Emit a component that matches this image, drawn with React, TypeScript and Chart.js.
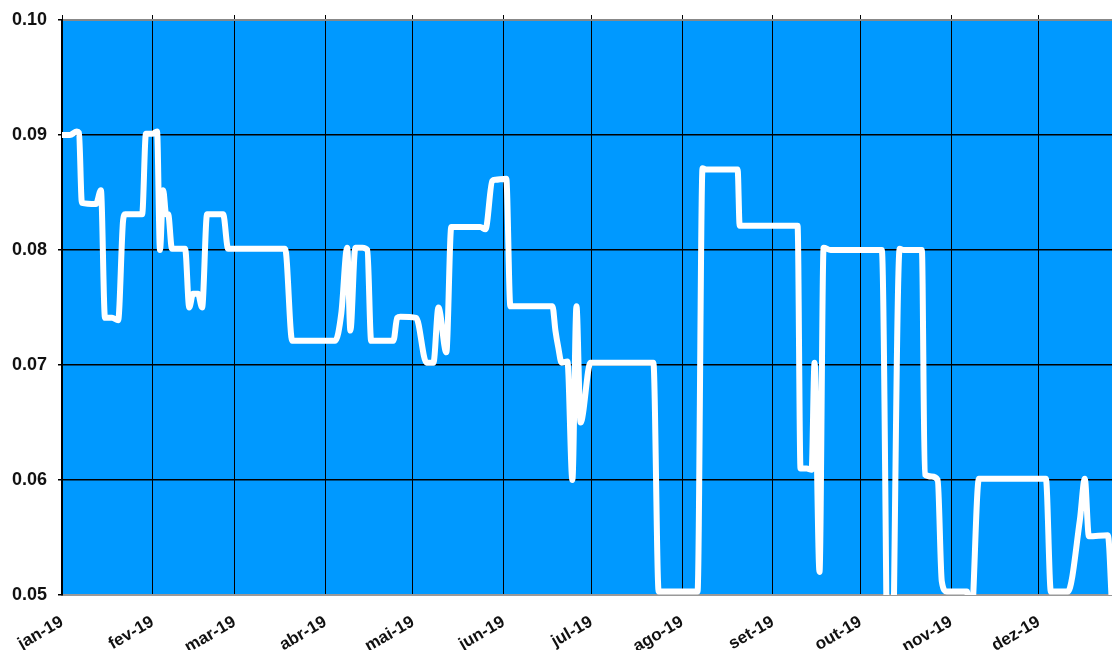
import React, { useEffect, useRef } from 'react';
import { Chart, registerables } from 'chart.js';

Chart.register(...registerables);

// Month tick labels (Portuguese, 2019) and their day offsets from 1 Jan
const monthLabels = ['jan-19', 'fev-19', 'mar-19', 'abr-19', 'mai-19', 'jun-19', 'jul-19', 'ago-19', 'set-19', 'out-19', 'nov-19', 'dez-19'];
const monthStartDays = [0, 31, 59, 90, 120, 151, 181, 212, 243, 273, 304, 334];
const dayMin = 0;
const dayMax = 359;

// Y axis
const yMin = 0.05;
const yMax = 0.1;
const yStep = 0.01;

// Series: day of year (0 = 1 Jan 2019) and value
const days = [
  0, 2.7, 5.1, 5.8, 6.8, 11.6, 13.3, 14.7, 17.1, 19.2, 20.9, 21.6, 27.4, 28.7, 30.8, 32.5,
  33.5, 34.6, 35.6, 36.3, 37.6, 42.1, 43.5, 44.8, 46.5, 47.9, 49.6, 55.1, 56.8, 76.3, 78.7,
  93.4, 95.5, 97.5, 98.6, 100.3, 102.7, 104.4, 105.7, 113.3, 114.6, 115.7, 121.1, 124.6, 127.0,
  128.7, 131.4, 133.1, 143.0, 144.8, 147.1, 148.2, 151.9, 153.3, 167.7, 168.7, 169.7, 170.8,
  172.8, 174.5, 175.9, 177.3, 180.7, 202.2, 204.0, 217.3, 219.0, 220.4, 231.0, 231.7, 251.5,
  252.5, 254.6, 256.3, 257.3, 259.0, 260.4, 262.8, 280.3, 283.0, 286.4, 287.8, 294.0, 295.0,
  297.4, 299.4, 300.8, 302.5, 309.4, 310.7, 313.5, 336.4, 338.1, 343.9, 348.0, 349.7, 351.1,
  357.6, 359.0,
];
const values = [
  0.09, 0.09, 0.0903, 0.0902, 0.0841, 0.084, 0.0852, 0.0741, 0.0741, 0.0739, 0.0826, 0.0831, 0.0831, 0.0901, 0.0901, 0.0903,
  0.08, 0.0852, 0.0831, 0.0831, 0.0801, 0.0801, 0.075, 0.0762, 0.0762, 0.075, 0.0831, 0.0831, 0.0801, 0.0801, 0.0721,
  0.0721, 0.0745, 0.0802, 0.073, 0.0802, 0.0802, 0.08, 0.0721, 0.0721, 0.0741, 0.0742, 0.0741, 0.0702, 0.0702,
  0.075, 0.0711, 0.082, 0.082, 0.0818, 0.086, 0.0861, 0.0862, 0.0751, 0.0751, 0.073, 0.0715, 0.0702,
  0.0703, 0.06, 0.0751, 0.065, 0.0702, 0.0702, 0.0503, 0.0503, 0.0871, 0.087, 0.087, 0.0821, 0.0821,
  0.061, 0.061, 0.0609, 0.0702, 0.052, 0.0802, 0.08, 0.08, 0.03, 0.0801, 0.08, 0.08, 0.0605,
  0.0603, 0.06, 0.0512, 0.0503, 0.0503, 0.047, 0.0601, 0.0601, 0.0503, 0.0503, 0.0565, 0.0601, 0.0551,
  0.0552, 0.049,
];

const plotBackground = {
  id: 'plotBackground',
  beforeDraw(chart: any) {
    const { ctx, chartArea } = chart;
    if (!chartArea) return;
    ctx.save();
    ctx.fillStyle = '#0099ff';
    ctx.fillRect(chartArea.left, chartArea.top, chartArea.right - chartArea.left, chartArea.bottom - chartArea.top);
    ctx.restore();
  },
};

const monthTicks = (scale: any) => {
  scale.ticks = monthStartDays.map((v) => ({ value: v }));
};

export default function App() {
  const canvasRef = useRef<HTMLCanvasElement | null>(null);

  useEffect(() => {
    if (!canvasRef.current) return;
    const points = days.map((d, i) => ({ x: d, y: values[i] }));
    const chart = new Chart(canvasRef.current, {
      type: 'line',
      data: {
        datasets: [
          {
            data: points,
            borderColor: '#ffffff',
            borderWidth: 6,
            borderJoinStyle: 'round',
            borderCapStyle: 'round',
            pointRadius: 0,
            fill: false,
            cubicInterpolationMode: 'monotone',
            clip: 0,
          } as any,
        ],
      },
      plugins: [plotBackground],
      options: {
        animation: false,
        responsive: true,
        maintainAspectRatio: false,
        layout: { padding: { top: 15, left: 0, right: 0, bottom: 0 } },
        plugins: { legend: { display: false }, tooltip: { enabled: false } },
        scales: {
          x: {
            type: 'linear',
            position: 'bottom',
            min: dayMin,
            max: dayMax,
            afterBuildTicks: monthTicks,
            afterFit: (scale: any) => {
              scale.height = 55;
              scale.paddingLeft = 0;
              scale.paddingRight = 0;
            },
            grid: { color: '#000', lineWidth: 1, drawTicks: false },
            border: { color: '#999', width: 2 },
            ticks: {
              autoSkip: false,
              minRotation: 30,
              maxRotation: 30,
              padding: 17,
              color: '#111',
              font: { family: "'Liberation Sans', Arial, sans-serif", size: 17, weight: 'bold' },
              callback: (_v: any, i: number) => monthLabels[i],
            },
          },
          xTop: {
            type: 'linear',
            position: 'top',
            min: dayMin,
            max: dayMax,
            afterBuildTicks: monthTicks,
            afterFit: (scale: any) => {
              scale.height = 5;
              scale.paddingLeft = 0;
              scale.paddingRight = 0;
            },
            grid: { color: '#000', lineWidth: 1, drawOnChartArea: false, tickLength: 5 },
            border: { color: '#888', width: 2 },
            ticks: { display: false },
          },
          y: {
            type: 'linear',
            min: yMin,
            max: yMax,
            afterFit: (scale: any) => {
              scale.width = 62;
              scale.paddingTop = 0;
              scale.paddingBottom = 0;
            },
            grid: { color: '#000', lineWidth: 1.5, tickLength: 4, tickColor: '#000' },
            border: { color: '#000', width: 2 },
            ticks: {
              stepSize: yStep,
              padding: 11,
              color: '#111',
              font: { family: "'Liberation Sans', Arial, sans-serif", size: 18, weight: 'bold' },
              callback: (v: any) => Number(v).toFixed(2),
            },
          },
        },
      } as any,
    });
    return () => chart.destroy();
  }, []);

  return (
    <div style={{ position: 'absolute', left: 0, top: 0, width: 1112, height: 650 }}>
      <canvas ref={canvasRef} />
    </div>
  );
}
